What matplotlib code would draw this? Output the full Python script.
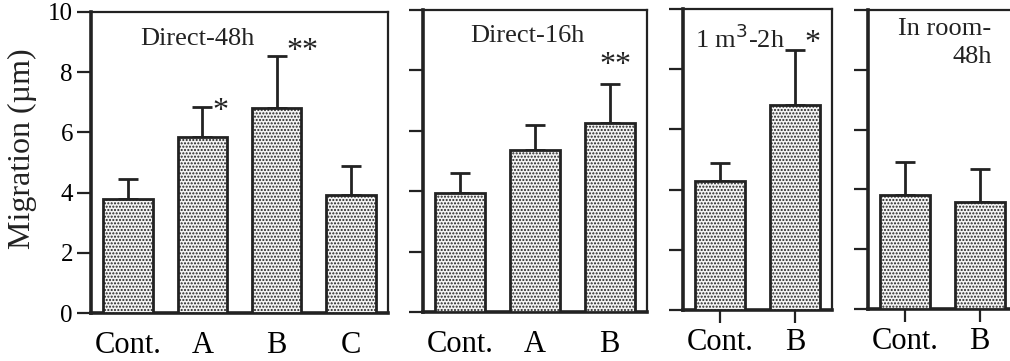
import matplotlib
matplotlib.use("Agg")
import matplotlib.pyplot as plt

plt.rcParams['font.family'] = ['Liberation Serif', 'DejaVu Serif']
plt.rcParams['hatch.color'] = '#444444'
plt.rcParams['hatch.linewidth'] = 1.0

# data
cats1 = ["Cont.", "A", "B", "C"]
mean1 = [3.8, 5.85, 6.82, 3.92]
err1 = [0.65, 1.0, 1.73, 0.95]
star1 = ["", "*", "**", ""]

cats2 = ["Cont.", "A", "B"]
mean2 = [3.95, 5.38, 6.25]
err2 = [0.65, 0.8, 1.3]
star2 = ["", "", "**"]

cats3 = ["Cont.", "B"]
mean3 = [4.3, 6.8]
err3 = [0.6, 1.85]
star3 = ["", "*"]

cats4 = ["Cont.", "B"]
mean4 = [3.8, 3.58]
err4 = [1.1, 1.1]
star4 = ["", ""]

titles = ["Direct-48h", "Direct-16h", "1 m$^3$-2h", "In room-\n48h"]
yticks = [0, 2, 4, 6, 8, 10]

W, H = 1010, 361
fig = plt.figure(figsize=(W / 100, H / 100), dpi=100)

# panel boxes in pixels: left, right, top, bottom
boxes = [(91, 388, 12, 313), (423, 647, 10, 312), (683, 832, 9, 310), (868, 1017, 10, 309)]
panels = [(cats1, mean1, err1, star1), (cats2, mean2, err2, star2),
          (cats3, mean3, err3, star3), (cats4, mean4, err4, star4)]
xticks_on = [False, False, True, True]
# title anchor (axes fraction), horizontal alignment
title_pos = [(0.165, 0.91, 'left'), (0.21, 0.914, 'left'), (0.08, 0.90, 'left'), (0.83, 0.89, 'right')]
# star placement: (dx, dy, ha, va) relative to error-bar top
star_pos = {(0, 1): (0.13, -0.17, 'left', 'center'),
            (0, 2): (0.13, 0.13, 'left', 'center'),
            (1, 2): (0.08, 0.6, 'center', 'center'),
            (2, 1): (0.13, 0.2, 'left', 'center')}
DARK = '#222222'

for i, ((l, r, t, b), (cats, m, e, s)) in enumerate(zip(boxes, panels)):
    ax = fig.add_axes([l / W, (H - b) / H, (r - l) / W, (b - t) / H])
    x = list(range(len(cats)))
    ax.bar(x, m, width=0.67, color='#f4f4f4', edgecolor=DARK, linewidth=2.0,
           hatch='.....', zorder=3)
    ax.errorbar(x, m, yerr=[[0] * len(m), e], fmt='none', ecolor=DARK,
                elinewidth=2.0, capsize=7, capthick=2.0, zorder=2)
    for j, (xi, mi, ei, si) in enumerate(zip(x, m, e, s)):
        if si:
            dx, dy, ha, va = star_pos[(i, j)]
            ax.text(xi + dx, mi + ei + dy, si, ha=ha, va=va,
                    fontsize=23, color=DARK)
    ax.set_xlim(-0.5, len(cats) - 0.5)
    ax.set_ylim(0, 10)
    ax.set_yticks(yticks)
    ax.set_xticks(x)
    ax.set_xticklabels(cats, fontsize=22)
    if xticks_on[i]:
        ax.tick_params(axis='x', length=9, width=1.6, pad=4, color=DARK)
    else:
        ax.tick_params(axis='x', length=0, pad=13)
    ax.tick_params(axis='y', length=10, width=1.6, color=DARK, labelsize=18, pad=3)
    if i != 0:
        ax.set_yticklabels([])
    for name, sp in ax.spines.items():
        sp.set_color(DARK)
        sp.set_linewidth(1.6)
    ax.spines['left'].set_linewidth(2.6)
    ax.spines['bottom'].set_linewidth(2.6)
    tx, ty, tha = title_pos[i]
    ax.text(tx, ty, titles[i], transform=ax.transAxes, ha=tha, va='center',
            fontsize=19, color=DARK, linespacing=1.35, multialignment='right')

fig.text(22 / W, 1 - 149 / H, "Migration (µm)", rotation=90, ha='center', va='center',
         fontsize=23, color=DARK)

fig.savefig("out.png", dpi=100)
